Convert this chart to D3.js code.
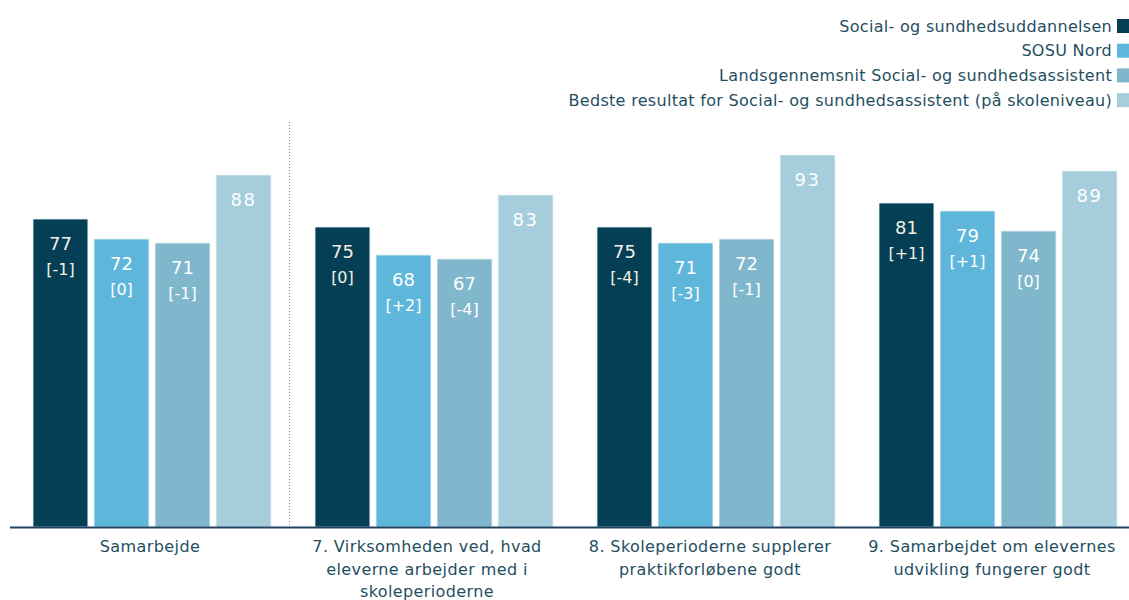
<!DOCTYPE html>
<html><head><meta charset="utf-8">
<script src="https://cdn.jsdelivr.net/npm/d3@7"></script>
<style>
body{margin:0;background:#fff;}
text{font-family:"DejaVu Sans",sans-serif;}
</style></head>
<body><svg id="chart" width="1129" height="600"></svg>
<script>
const categories = ["Samarbejde", "7. Virksomheden ved, hvad eleverne arbejder med i skoleperioderne", "8. Skoleperioderne supplerer praktikforløbene godt", "9. Samarbejdet om elevernes udvikling fungerer godt"];
const categoryLines = [["Samarbejde"], ["7. Virksomheden ved, hvad", "eleverne arbejder med i", "skoleperioderne"], ["8. Skoleperioderne supplerer", "praktikforløbene godt"], ["9. Samarbejdet om elevernes", "udvikling fungerer godt"]];
const seriesNames = ["Social- og sundhedsuddannelsen", "SOSU Nord", "Landsgennemsnit Social- og sundhedsassistent", "Bedste resultat for Social- og sundhedsassistent (på skoleniveau)"];
const seriesColors = ["#043F56", "#5EB6DB", "#80B7CC", "#A5CDDC"];
const valuesSocial = [77, 75, 75, 81];
const valuesSosuNord = [72, 68, 71, 79];
const valuesLandsgns = [71, 67, 72, 74];
const valuesBedste = [88, 83, 93, 89];
const deltasSocial = ["[-1]", "[0]", "[-4]", "[+1]"];
const deltasSosuNord = ["[0]", "[+2]", "[-3]", "[+1]"];
const deltasLandsgns = ["[-1]", "[-4]", "[-1]", "[0]"];
const deltasBedste = [null, null, null, null];

const allValues = [valuesSocial, valuesSosuNord, valuesLandsgns, valuesBedste];
const allDeltas = [deltasSocial, deltasSosuNord, deltasLandsgns, deltasBedste];

const svg = d3.select("#chart");
const baseY = 527;
const y = d3.scaleLinear().domain([0, 100]).range([baseY, baseY - 400]);
const x0 = d3.scaleBand().domain(d3.range(categories.length)).range([11, 1139]).padding(0);
const x1 = d3.scaleBand().domain(d3.range(seriesNames.length)).range([22, x0.bandwidth() - 22]).paddingInner(0.1);

const data = [];
categories.forEach((c, ci) => {
  seriesNames.forEach((s, si) => {
    data.push({ci, si, v: allValues[si][ci], d: allDeltas[si][ci]});
  });
});

const g = svg.append("g");
g.selectAll("rect.bar").data(data).join("rect")
  .attr("class", "bar")
  .attr("x", d => x0(d.ci) + x1(d.si))
  .attr("y", d => y(d.v))
  .attr("width", x1.bandwidth())
  .attr("height", d => y(0) - y(d.v))
  .attr("fill", d => seriesColors[d.si])
  .attr("stroke", "#e6f2f6").attr("stroke-width", 0.8);

g.selectAll("text.val").data(data).join("text")
  .attr("class", "val")
  .attr("x", d => x0(d.ci) + x1(d.si) + x1.bandwidth() / 2)
  .attr("y", d => y(d.v) + 25)
  .attr("dy", "0.35em")
  .attr("text-anchor", "middle")
  .attr("font-size", 18)
  .attr("letter-spacing", d => d.si === 3 ? 1.5 : 0)
  .attr("fill", d => d.si === 0 ? "#f4efe2" : "#ffffff")
  .text(d => d.v);

g.selectAll("text.delta").data(data.filter(d => d.d)).join("text")
  .attr("class", "delta")
  .attr("x", d => x0(d.ci) + x1(d.si) + x1.bandwidth() / 2)
  .attr("y", d => y(d.v) + 50)
  .attr("dy", "0.35em")
  .attr("text-anchor", "middle")
  .attr("font-size", 16)
  .attr("fill", d => d.si === 0 ? "#f4efe2" : "#ffffff")
  .text(d => d.d);

// separator
svg.append("line")
  .attr("x1", x0(1) - 3.5).attr("x2", x0(1) - 3.5)
  .attr("y1", 122).attr("y2", baseY)
  .attr("stroke", "#888").attr("stroke-width", 1).attr("stroke-dasharray", "1,2");

// baseline axis
svg.append("line").attr("x1", 10).attr("x2", 1129).attr("y1", baseY + 0.5).attr("y2", baseY + 0.5)
  .attr("stroke", "#1F4360").attr("stroke-width", 2);

// category labels
const labelShift = [-2, -7, -6, -6];
categoryLines.forEach((lines, ci) => {
  const cx = x0(ci) + x0.bandwidth() / 2 + labelShift[ci];
  const t = svg.append("text")
    .attr("text-anchor", "middle")
    .attr("font-size", 16)
    .attr("letter-spacing", 0.4)
    .attr("fill", "#1F4E5F");
  lines.forEach((ln, li) => {
    t.append("tspan").attr("x", cx).attr("y", 552 + li * 22.5).text(ln);
  });
});

// legend
const leg = svg.append("g");
seriesNames.forEach((s, i) => {
  const ly = 26 + i * 24.7;
  leg.append("rect").attr("x", 1117).attr("y", ly - 7).attr("width", 14).attr("height", 14).attr("fill", seriesColors[i]);
  leg.append("text").attr("x", 1112).attr("y", ly).attr("dy", "0.35em")
    .attr("text-anchor", "end").attr("font-size", 16).attr("letter-spacing", 0.3).attr("fill", "#1F4E5F").text(s);
});
</script></body></html>
